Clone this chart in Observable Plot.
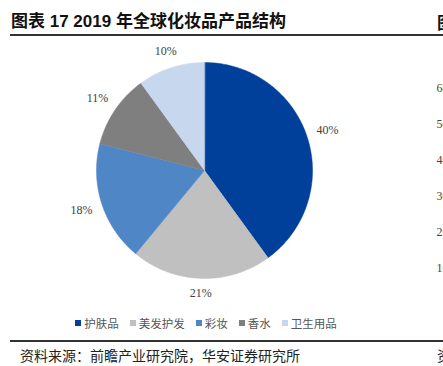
<!DOCTYPE html>
<html><head><meta charset="utf-8">
<script src="https://cdn.jsdelivr.net/npm/d3@7"></script>
<script src="https://cdn.jsdelivr.net/npm/@observablehq/plot@0.6"></script>
<style>
html,body{margin:0;padding:0;background:#fff;}
body{width:443px;height:366px;position:relative;overflow:hidden;font-family:"Noto Sans CJK SC",sans-serif;}
.abs{position:absolute;white-space:nowrap;}
#title{left:11px;top:13px;font-size:17px;line-height:18px;font-weight:bold;color:#111;font-family:"Liberation Sans","Noto Sans CJK SC",sans-serif;}
#title2{left:437px;top:13px;font-size:17px;line-height:18px;font-weight:bold;color:#111;}
.rule{position:absolute;left:10px;width:433px;height:1.5px;background:#333;}
#legend{left:0;top:316px;width:412px;display:flex;justify-content:center;gap:11px;font-size:11.5px;line-height:14px;color:#555;}
#legend .it{display:flex;align-items:center;}
#legend .sw{width:6px;height:6px;margin-right:3px;display:inline-block;}
#source{left:20px;top:346px;font-size:14px;line-height:18px;color:#222;}
#source2{left:437px;top:346px;font-size:14px;line-height:18px;color:#222;}
#pie{left:0;top:40px;width:443px;}
#side{left:430px;top:0px;width:100px;height:366px;}
svg{max-width:none !important;}
</style></head><body>
<div id="title" class="abs"></div>
<div id="title2" class="abs">图</div>
<div class="rule" style="top:34px"></div>
<div id="pie" class="abs"></div>
<div id="side" class="abs"></div>
<div id="legend" class="abs"></div>
<div class="rule" style="top:340px"></div>
<div id="source" class="abs"></div>
<div id="source2" class="abs">资</div>
<script>
const titleText = "图表 17 2019 年全球化妆品产品结构";
const sourceText = "资料来源：前瞻产业研究院，华安证券研究所";
const categories = ["护肤品", "美发护发", "彩妆", "香水", "卫生用品"];
const shares = [40, 21, 18, 11, 10];
const colors = ["#00409a", "#c0c0c0", "#4f86c6", "#7f7f7f", "#c6d7ee"];
const sideTicks = [10, 20, 30, 40, 50, 60];

document.getElementById("title").textContent = titleText;
document.getElementById("source").textContent = sourceText;

// pie geometry from the data
const R = 108; // px radius
const arcs = d3.pie().sort(null)(shares);
const pts = [];
const labels = [];
arcs.forEach((a, i) => {
  const name = categories[i];
  pts.push({name, x: 0, y: 0});
  const n = Math.max(2, Math.ceil((a.endAngle - a.startAngle) / (Math.PI / 180)));
  for (let k = 0; k <= n; k++) {
    const t = a.startAngle + (a.endAngle - a.startAngle) * k / n;
    pts.push({name, x: Math.sin(t), y: Math.cos(t)});
  }
  const m = (a.startAngle + a.endAngle) / 2;
  const s = Math.sin(m), c = Math.cos(m);
  const d = (R + 8 + Math.abs(s) * 12 + Math.abs(c) * 6) / R;
  labels.push({x: s * d, y: c * d, text: a.data + "%"});
});

const W = 443, H = 280, cx = 204, cy = 130;
const pie = Plot.plot({
  width: W, height: H,
  margin: 0,
  style: {background: "transparent", overflow: "visible"},
  x: {domain: [-cx / R, (W - cx) / R], axis: null},
  y: {domain: [-(H - cy) / R, cy / R], axis: null},
  color: {domain: categories, range: colors},
  marks: [
    Plot.line(pts, {x: "x", y: "y", z: "name", fill: "name", stroke: "name", strokeWidth: 0.5, curve: "linear-closed"}),
    Plot.text(labels, {x: "x", y: "y", text: "text", fontSize: 12, fontFamily: "Liberation Serif", fill: "#404040"})
  ]
});
document.getElementById("pie").appendChild(pie);

// partial neighbouring chart axis at right edge
const side = Plot.plot({
  width: 100, height: 366,
  marginTop: 52, marginBottom: 62, marginLeft: 0, marginRight: 94,
  style: {background: "transparent", fontSize: "12px", fontFamily: "Liberation Serif", color: "#444", overflow: "visible"},
  y: {domain: [0, 70]},
  marks: [
    Plot.axisY(sideTicks, {anchor: "right", tickSize: 0, tickPadding: 0, label: null, tickFormat: d => String(d), fill: "#444", fontSize: 12, fontFamily: "Liberation Serif"})
  ]
});
document.getElementById("side").appendChild(side);

// legend
const lg = document.getElementById("legend");
categories.forEach((c, i) => {
  const it = document.createElement("span");
  it.className = "it";
  const sw = document.createElement("span");
  sw.className = "sw";
  sw.style.background = colors[i];
  it.appendChild(sw);
  it.appendChild(document.createTextNode(c));
  lg.appendChild(it);
});
</script>
</body></html>
